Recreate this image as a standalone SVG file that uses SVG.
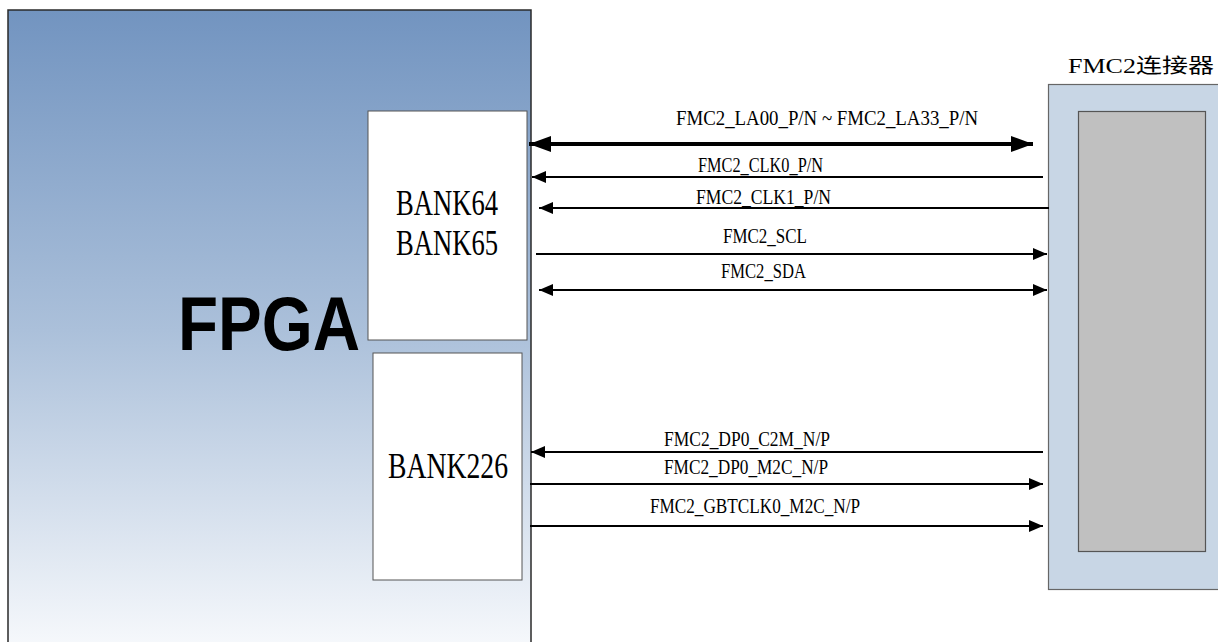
<svg xmlns="http://www.w3.org/2000/svg" width="1218" height="642" viewBox="0 0 1218 642">
<defs>
<linearGradient id="fpgaGrad" x1="0" y1="0" x2="0" y2="1">
<stop offset="0" stop-color="#7294c0"/>
<stop offset="0.5" stop-color="#abc0da"/>
<stop offset="1" stop-color="#f7f9fc"/>
</linearGradient>
<marker id="ah" markerUnits="userSpaceOnUse" markerWidth="16" markerHeight="12" refX="14" refY="6" orient="auto-start-reverse">
<path d="M0,0 L14,6 L0,12 Z" fill="#000"/>
</marker>
<marker id="ahBig" markerUnits="userSpaceOnUse" markerWidth="24" markerHeight="16" refX="22" refY="8" orient="auto-start-reverse">
<path d="M0,0 L22,8 L0,16 Z" fill="#000"/>
</marker>
</defs>
<style>
.lbl{font-family:"Liberation Serif","Noto Sans CJK SC",serif;font-size:20px;fill:#000}
.bank{font-family:"Liberation Serif",serif;font-size:36px;fill:#000}
.ln{stroke:#000;stroke-width:2;fill:none}
.box{fill:#fff;stroke:#555;stroke-width:1}
</style>
<g id="fpga">
<rect x="8" y="10" width="523" height="640" fill="url(#fpgaGrad)" stroke="#2a2a2a" stroke-width="1.5"/>
<text x="178" y="350" font-family="Liberation Sans,sans-serif" font-weight="bold" font-size="76" textLength="182" lengthAdjust="spacingAndGlyphs">FPGA</text>
</g>
<g id="bank64_65">
<rect class="box" x="368" y="111" width="159" height="229"/>
<text class="bank" x="396" y="215" textLength="102" lengthAdjust="spacingAndGlyphs">BANK64</text>
<text class="bank" x="396" y="255" textLength="102" lengthAdjust="spacingAndGlyphs">BANK65</text>
</g>
<g id="bank226">
<rect class="box" x="373" y="353" width="149" height="227"/>
<text class="bank" x="388" y="478" textLength="120" lengthAdjust="spacingAndGlyphs">BANK226</text>
</g>
<g id="fmc2">
<rect x="1048.5" y="84.5" width="175" height="505" fill="#c8d6e5" stroke="#666" stroke-width="1.2"/>
<rect x="1078.5" y="111.5" width="127" height="440" fill="#c0c0c0" stroke="#555" stroke-width="1.2"/>
<text class="lbl" x="1068" y="73" font-size="23" textLength="146" lengthAdjust="spacingAndGlyphs">FMC2连接器</text>
</g>
<g id="connectors">
<line x1="529" y1="144" x2="1033" y2="144" stroke="#000" stroke-width="4" marker-start="url(#ahBig)" marker-end="url(#ahBig)"/>
<line class="ln" x1="1043" y1="177" x2="532" y2="177" marker-end="url(#ah)"/>
<line class="ln" x1="1049" y1="208" x2="539" y2="208" marker-end="url(#ah)"/>
<line class="ln" x1="536" y1="254" x2="1047" y2="254" marker-end="url(#ah)"/>
<line class="ln" x1="539" y1="290" x2="1047" y2="290" marker-start="url(#ah)" marker-end="url(#ah)"/>
<line class="ln" x1="1043" y1="452" x2="531" y2="452" marker-end="url(#ah)"/>
<line class="ln" x1="530" y1="484" x2="1043" y2="484" marker-end="url(#ah)"/>
<line class="ln" x1="530" y1="526" x2="1043" y2="526" marker-end="url(#ah)"/>
<text class="lbl" x="676" y="125" textLength="302" lengthAdjust="spacingAndGlyphs">FMC2_LA00_P/N ~ FMC2_LA33_P/N</text>
<text class="lbl" x="698" y="172" textLength="125" lengthAdjust="spacingAndGlyphs">FMC2_CLK0_P/N</text>
<text class="lbl" x="696" y="204" textLength="135" lengthAdjust="spacingAndGlyphs">FMC2_CLK1_P/N</text>
<text class="lbl" x="723" y="243" textLength="84" lengthAdjust="spacingAndGlyphs">FMC2_SCL</text>
<text class="lbl" x="721" y="278" textLength="85" lengthAdjust="spacingAndGlyphs">FMC2_SDA</text>
<text class="lbl" x="664" y="446" textLength="166" lengthAdjust="spacingAndGlyphs">FMC2_DP0_C2M_N/P</text>
<text class="lbl" x="664" y="474" textLength="164" lengthAdjust="spacingAndGlyphs">FMC2_DP0_M2C_N/P</text>
<text class="lbl" x="650" y="513" textLength="210" lengthAdjust="spacingAndGlyphs">FMC2_GBTCLK0_M2C_N/P</text>
</g>
</svg>
